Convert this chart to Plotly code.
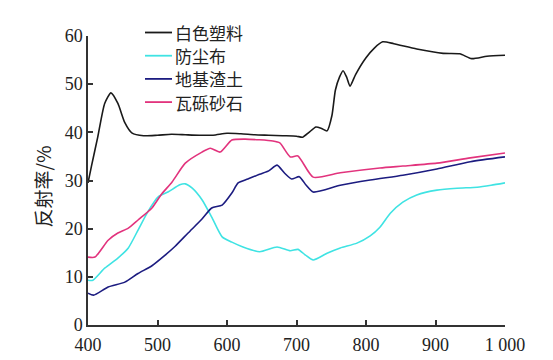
import plotly.graph_objects as go

# 白色塑料
wl_black = [400, 405, 414, 424, 433, 443, 453, 463, 480, 500, 520, 540, 560, 580, 600, 620, 640, 660, 680, 700, 709, 718, 728, 736, 744, 751, 756, 762, 767, 772, 777, 785, 800, 812, 824, 840, 873, 911, 935, 952, 974, 1000]
r_black = [29.5, 33, 39, 46, 48.2, 46, 42, 39.9, 39.3, 39.4, 39.6, 39.5, 39.4, 39.4, 39.8, 39.7, 39.5, 39.4, 39.3, 39.2, 39.0, 40.0, 41.1, 40.8, 40.3, 43.5, 48.8, 51.5, 52.8, 51.5, 49.6, 52, 55.5, 57.5, 58.8, 58.4, 57.3, 56.4, 56.3, 55.3, 55.8, 56.0]

# 防尘布
wl_cyan = [400, 407, 424, 443, 458, 472, 486, 501, 515, 532, 540, 550, 564, 578, 593, 607, 623, 647, 672, 691, 702, 713, 724, 744, 763, 787, 806, 820, 835, 853, 873, 902, 931, 960, 980, 1000]
r_cyan = [9.3, 9.3, 11.8, 13.9, 16, 19.7, 23.5, 26.6, 27.6, 29.1, 29.3, 28.4, 26, 22.4, 18.3, 17.2, 16.2, 15.2, 16.2, 15.4, 15.7, 14.5, 13.5, 14.9, 16, 17, 18.5, 20.3, 23.2, 25.5, 27, 28, 28.4, 28.6, 29.0, 29.5]

# 地基渣土
wl_blue = [400, 408, 429, 453, 472, 492, 511, 525, 544, 564, 578, 593, 607, 616, 630, 647, 660, 672, 683, 693, 704, 714, 724, 763, 806, 853, 902, 950, 1000]
r_blue = [6.6, 6.2, 7.9, 8.9, 10.7, 12.3, 14.5, 16.3, 19.1, 22, 24.3, 24.9, 27.4, 29.5, 30.3, 31.3, 32, 33.2, 31.5, 30.3, 30.8, 29, 27.6, 29, 30.1, 31.1, 32.4, 33.9, 34.9]

# 瓦砾砂石
wl_pink = [400, 410, 429, 443, 458, 472, 492, 506, 521, 540, 564, 576, 590, 607, 626, 666, 676, 691, 702, 724, 763, 820, 853, 902, 950, 1000]
r_pink = [14.1, 14.1, 17.6, 19.1, 20.1, 21.8, 24.3, 27.2, 29.7, 33.6, 35.9, 36.7, 35.9, 38.4, 38.6, 38.2, 37.8, 34.9, 35.1, 30.7, 31.6, 32.6, 33, 33.6, 34.7, 35.7]

names = ["白色塑料", "防尘布", "地基渣土", "瓦砾砂石"]
colors = ["#1a1a1a", "#3fe3e3", "#1c1c80", "#e2337d"]

x_ticks = [400, 500, 600, 700, 800, 900, 1000]
x_ticktext = ["400", "500", "600", "700", "800", "900", "1 000"]
y_ticks = [0, 10, 20, 30, 40, 50, 60]

fig = go.Figure()
for wl, r, n, c in zip([wl_black, wl_cyan, wl_blue, wl_pink],
                       [r_black, r_cyan, r_blue, r_pink], names, colors):
    fig.add_trace(go.Scatter(x=wl, y=r, name=n, mode="lines", showlegend=False,
                             line=dict(color=c, width=1.6, shape="spline", smoothing=0.6)))

# legend drawn as line samples + text (paper coordinates)
legend_y = [1.0121, 0.9318, 0.8516, 0.7713]
for n, c, ly in zip(names, colors, legend_y):
    fig.add_shape(type="line", xref="paper", yref="paper", x0=0.1367, x1=0.2014,
                  y0=ly, y1=ly, line=dict(color=c, width=1.8))
    fig.add_annotation(text=n, xref="paper", yref="paper", x=0.2062, y=ly,
                       xanchor="left", yanchor="middle", showarrow=False, borderpad=0,
                       font=dict(family="Noto Sans CJK SC", size=17, color="#222"))

serif = "Liberation Serif, Times New Roman, serif"
# page body has an 8px margin, so the figure is shrunk by 8px and margins shifted
fig.update_layout(
    width=545, height=352,
    margin=dict(l=80, r=48, t=28, b=35, autoexpand=False),
    paper_bgcolor="white", plot_bgcolor="white",
    showlegend=False,
    xaxis=dict(range=[400, 1000], tickvals=x_ticks, ticktext=x_ticktext,
               showgrid=False, zeroline=False, showline=True, linecolor="#333", linewidth=1.5,
               ticks="inside", ticklen=5, tickcolor="#333", tickwidth=1.5,
               ticklabelstandoff=3,
               tickfont=dict(family=serif, size=18, color="#222")),
    yaxis=dict(range=[0, 60], tickvals=y_ticks,
               showgrid=False, zeroline=False, showline=True, linecolor="#333", linewidth=1.5,
               ticks="inside", ticklen=5, tickcolor="#333", tickwidth=1.5,
               tickfont=dict(family=serif, size=18, color="#222")),
)
fig.add_annotation(text="反射率/%", textangle=-90, xref="paper", yref="paper",
                   x=-0.11, y=0.48, xanchor="center", yanchor="middle", showarrow=False,
                   font=dict(family="Noto Sans CJK SC", size=19, color="#222"))

fig.write_html("out.html")
